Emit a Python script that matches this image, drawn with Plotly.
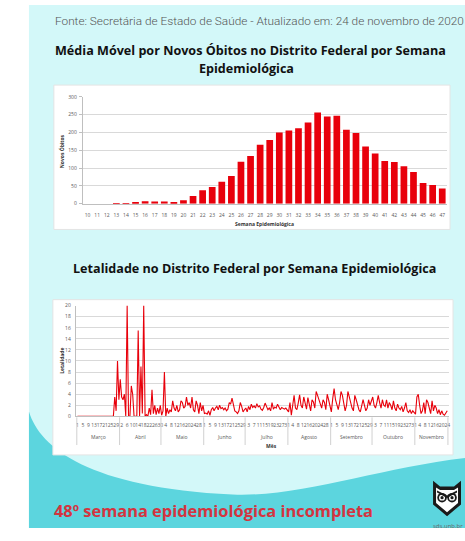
import pandas as pd
import plotly.graph_objects as go

W, H = 465, 541

# ---------------- data ----------------
semanas = [str(s) for s in range(10, 48)]
obitos_media = [0, 0, 0, 0.5, 2, 4, 7, 6, 6, 5, 10, 22, 38, 47, 62, 78, 118, 134,
                166, 179, 200, 206, 212, 228, 256, 245, 247, 208, 199, 161, 141,
                120, 117, 105, 89, 58, 53, 43]

let_mar = [0, 0, 0, 0, 0, 0, 0, 0, 0, 0, 0, 0, 0, 0, 0, 0, 0, 0, 0, 0, 0, 0, 0, 0, 0, 0, 0,
           3.5, 1.0, 10.0, 3.0]
let_abr = [6.7, 3.5, 3.0, 4.0, 0.0, 20.0, 0.0, 0.0, 5.5, 4.0, 0.0, 0.0, 0.0, 15.5, 0.0,
           9.0, 0.5, 20.0, 0.0, 0.3, 0.0, 1.5, 0.3, 4.8, 0.5, 2.0, 0.3, 1.5, 0.5, 2.0]
let_mai = [0.2, 1.0, 8.0, 0.0, 1.5, 0.5, 1.2, 0.8, 2.8, 1.5, 1.0, 2.0, 0.8, 1.2, 2.8, 2.5,
           1.5, 1.8, 3.5, 2.0, 2.5, 1.5, 3.5, 1.2, 0.8, 2.8, 2.0, 0.5, 2.5, 1.0, 2.0]
let_jun = [0.5, 0.6, 0.4, 1.0, 0.2, 1.2, 1.6, 1.0, 1.5, 1.8, 1.2, 2.0, 1.4, 1.6, 1.2, 1.5,
           1.0, 1.3, 2.5, 2.2, 3.3, 2.0, 1.0, 0.8, 0.5, 1.0, 2.5, 1.8, 0.8, 1.2]
let_jul = [1.5, 0.8, 1.8, 1.2, 2.2, 1.6, 1.9, 1.5, 2.3, 1.7, 1.9, 1.3, 1.1, 1.6, 2.4, 1.8,
           1.2, 1.5, 1.0, 2.5, 1.3, 1.7, 1.5, 2.2, 1.8, 1.2, 1.6, 1.4, 1.3, 1.5, 1.0]
let_ago = [0.8, 2.5, 0.2, 2.0, 3.8, 1.5, 1.2, 2.4, 3.9, 2.0, 1.5, 3.5, 2.0, 1.3, 3.4, 2.0,
           1.0, 3.0, 2.6, 1.5, 4.5, 3.8, 3.0, 2.0, 1.5, 3.0, 2.5, 1.2, 4.0, 3.0, 1.5]
let_set = [0.8, 3.2, 5.0, 3.0, 2.0, 1.2, 2.5, 4.5, 3.8, 2.0, 1.0, 2.0, 4.5, 3.5, 2.2, 1.5,
           1.0, 3.8, 3.0, 2.0, 1.2, 0.8, 2.2, 3.0, 2.0, 1.0, 1.5, 3.0, 2.0, 2.8]
let_out = [3.5, 2.0, 1.5, 2.5, 3.8, 2.5, 1.5, 3.0, 2.0, 1.8, 3.0, 1.5, 2.5, 2.0, 1.2, 2.8,
           1.5, 1.0, 2.2, 1.5, 1.2, 1.8, 0.8, 1.5, 2.5, 1.0, 0.7, 1.2, 0.5, 1.0, 0.6]
let_nov = [0.4, 3.5, 4.0, 2.0, 0.5, 1.0, 2.5, 0.5, 3.0, 2.5, 1.5, 0.5, 2.8, 1.0, 2.0, 1.5,
           0.5, 1.2, 0.3, 1.0, 0.4, 0.2, 0.6, 1.0]
meses = ["Março", "Abril", "Maio", "Junho", "Julho", "Agosto", "Setembro", "Outubro", "Novembro"]
let_series = [let_mar, let_abr, let_mai, let_jun, let_jul, let_ago, let_set, let_out, let_nov]

letalidade = [v for m in let_series for v in m]
dias = pd.date_range("2020-03-01", periods=len(letalidade), freq="D")

# ---------------- helpers ----------------
def X(px):
    return px / W

def Y(py):
    return 1 - py / H

def path(cmds):
    out = []
    for c in cmds:
        if isinstance(c, str):
            out.append(c)
        else:
            out.append(f"{X(c[0]):.5f},{Y(c[1]):.5f}")
    return " ".join(out)

PANEL = "#d3f8f9"
WAVE = "#5cd5de"
RED = "#e8000b"
GRID = "#d9d9d9"
AX = "#bfbfbf"
TXT = "#595959"
INK = "#1a1a1a"

fig = go.Figure()

fig.add_trace(go.Bar(x=semanas, y=obitos_media, marker_color=RED, marker_line_width=0,
                     xaxis="x", yaxis="y", showlegend=False))
fig.add_trace(go.Scatter(x=dias, y=letalidade, mode="lines",
                         line=dict(color=RED, width=1.1), xaxis="x2", yaxis="y2",
                         showlegend=False))

shapes = []
shapes.append(dict(type="rect", xref="paper", yref="paper", x0=X(29), x1=X(466),
                   y0=Y(531), y1=Y(2), fillcolor=PANEL, line_width=0, layer="below"))
shapes.append(dict(type="path", xref="paper", yref="paper", layer="below",
                   fillcolor=WAVE, line_width=0,
                   path=path(["M", (29, 413), "C", (40, 450), (90, 490), (233, 497),
                              "C", (300, 500), (380, 470), (466, 460),
                              "L", (466, 531), "L", (29, 531), "Z"])))
shapes.append(dict(type="rect", xref="paper", yref="paper", x0=X(54), x1=X(451),
                   y0=Y(229), y1=Y(83), fillcolor="white", line=dict(color="#e4e4e4", width=1),
                   layer="below"))
shapes.append(dict(type="rect", xref="paper", yref="paper", x0=X(53), x1=X(454),
                   y0=Y(457), y1=Y(300), fillcolor="white", line=dict(color="#e4e4e4", width=1),
                   layer="below"))

month_starts = [dias[0]] + [d for d in dias if d.day == 1 and d != dias[0]]
bounds = [d - pd.Timedelta(hours=12) for d in month_starts] + [dias[-1] + pd.Timedelta(hours=12)]
for b in bounds:
    shapes.append(dict(type="line", xref="x2", yref="paper", x0=b, x1=b,
                       y0=Y(447), y1=Y(419), line=dict(color="#d0d0d0", width=1)))

# owl logo (outline style)
shapes.append(dict(type="path", xref="paper", yref="paper", fillcolor=INK, line_width=0,
                   path=path(["M", (434, 483), "L", (441, 489), "L", (455, 489), "L", (462, 483),
                              "L", (462, 507), "L", (448, 519), "L", (434, 507), "Z"])))
shapes.append(dict(type="path", xref="paper", yref="paper", fillcolor="white", line_width=0,
                   path=path(["M", (437, 490), "L", (441, 492.5), "L", (455, 492.5), "L", (459, 490),
                              "L", (459, 505.5), "L", (448, 515), "L", (437, 505.5), "Z"])))
for cx in (443, 453):
    shapes.append(dict(type="circle", xref="paper", yref="paper", fillcolor=INK, line_width=0,
                       x0=X(cx - 4.8), x1=X(cx + 4.8), y0=Y(505), y1=Y(495.4)))
    shapes.append(dict(type="circle", xref="paper", yref="paper", fillcolor="white", line_width=0,
                       x0=X(cx - 3), x1=X(cx + 3), y0=Y(503.2), y1=Y(497.2)))
    shapes.append(dict(type="circle", xref="paper", yref="paper", fillcolor=INK, line_width=0,
                       x0=X(cx - 1.6), x1=X(cx + 1.6), y0=Y(501.8), y1=Y(498.6)))
shapes.append(dict(type="path", xref="paper", yref="paper", fillcolor=INK, line_width=0,
                   path=path(["M", (438, 493), "L", (448, 498), "L", (458, 493), "L", (458, 495),
                              "L", (448, 500.5), "L", (438, 495), "Z"])))

annotations = []
def ann(text, x, y, size, color="#222", family="Open Sans", xanchor="center", weight=None, **kw):
    f = dict(size=size, color=color, family=family)
    if weight:
        f["weight"] = weight
    annotations.append(dict(text=text, x=X(x), y=Y(y), xref="paper", yref="paper",
                            showarrow=False, xanchor=xanchor, yanchor="middle",
                            font=f, **kw))

ann("Fonte: Secretária de Estado de Saúde - Atualizado em: 24 de novembro de 2020",
    53, 18, 11.8, color="#555", family="Roboto", xanchor="left", weight=300)
ann("<b>Média Móvel por Novos Óbitos no Distrito Federal por Semana</b>", 251, 48, 12.6, color="#111")
ann("<b>Epidemiológica</b>", 247, 66, 12.6, color="#111")
ann("<b>Letalidade no Distrito Federal por Semana Epidemiológica</b>", 255, 268, 12.6, color="#111")
ann("<b>48º semana epidemiológica incompleta</b>", 52, 513, 16.4, color="#d4343f", xanchor="left")
ann("sds.unb.br", 432, 529, 6, color="#666", xanchor="left")
ann("<b>Novos Óbitos</b>", 61, 150, 5, color="#333", textangle=-90)
ann("<b>Semana Epidemiológica</b>", 265, 223, 5, color="#333")
ann("<b>Letalidade</b>", 62, 362, 5, color="#333", textangle=-90)
ann("<b>Mês</b>", 272, 448, 5, color="#333")

for nome, serie, start in zip(meses, let_series, month_starts):
    mid = start + pd.Timedelta(days=(len(serie) - 1) / 2)
    annotations.append(dict(text=nome, x=mid, y=Y(439), xref="x2", yref="paper",
                            showarrow=False, xanchor="center", yanchor="middle",
                            font=dict(size=5, color=TXT, family="Open Sans")))

tick_dias = dias[::4]

fig.update_layout(
    width=W, height=H, autosize=False,
    margin=dict(l=0, r=0, t=0, b=0),
    paper_bgcolor="white", plot_bgcolor="rgba(0,0,0,0)",
    bargap=0.3,
    shapes=shapes, annotations=annotations,
    font=dict(family="Open Sans", size=5, color=TXT),
    xaxis=dict(domain=[X(83), X(448)], anchor="y", type="category",
               showgrid=False, showline=True, linecolor=AX, linewidth=1,
               ticks="", tickfont=dict(size=5, color=TXT), ticklabelstandoff=6),
    yaxis=dict(domain=[Y(203), Y(95)], anchor="x", range=[0, 300], dtick=50,
               showgrid=True, gridcolor=GRID, gridwidth=1, zeroline=False,
               showline=True, linecolor=AX, ticks="outside", ticklen=3, tickcolor=AX,
               tickfont=dict(size=5, color=TXT), ticklabelstandoff=1),
    xaxis2=dict(domain=[X(76), X(450)], anchor="y2", type="date",
                range=[dias[0] - pd.Timedelta(days=1.2), dias[-1] + pd.Timedelta(days=1.3)],
                tickmode="array", tickvals=list(tick_dias),
                ticktext=[str(d.day) for d in tick_dias], tickangle=0,
                showgrid=False, showline=True, linecolor=AX, ticks="",
                tickfont=dict(size=5, color=TXT), ticklabelstandoff=4),
    yaxis2=dict(domain=[Y(418), Y(306)], anchor="x2", range=[0, 20], dtick=2,
                showgrid=True, gridcolor=GRID, gridwidth=1, zeroline=False,
                showline=True, linecolor=AX, ticks="",
                tickfont=dict(size=5, color=TXT), ticklabelstandoff=3),
)

fig.write_html("out.html", post_script="document.body.style.margin='0px';document.body.style.padding='0px';",
               config={"displayModeBar": False})
